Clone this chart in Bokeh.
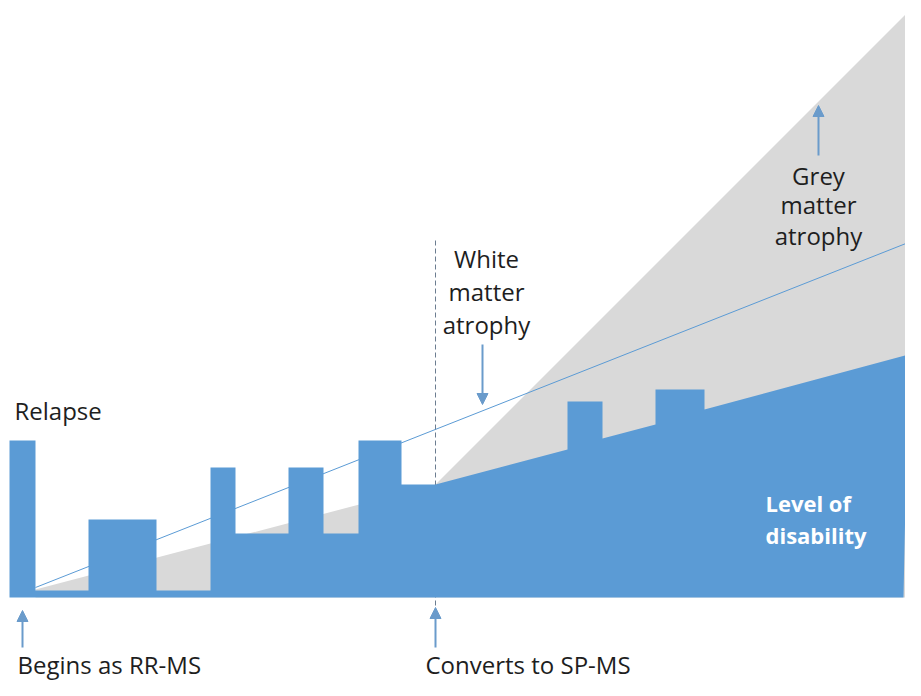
from bokeh.plotting import figure
from bokeh.models import Range1d, Arrow, NormalHead
from bokeh.core.properties import value
from bokeh.embed import file_html
from bokeh.resources import INLINE

# ---- data (time in arbitrary units, level above baseline) ----
# step profile of disability: relapses rise, partial recovery, then steady progression
disability_t = [0, 0, 26, 26, 79, 79, 147, 147, 201, 201, 226, 226, 279, 279,
                314, 314, 349, 349, 392, 392, 426, 558, 558, 593, 593, 646, 646,
                695, 695, 899, 894]
disability_level = [0, 157, 157, 7, 7, 78, 78, 7, 7, 130, 130, 64, 64, 130,
                    130, 64, 64, 157, 157, 113, 113, 148, 196, 196, 159, 173, 208,
                    208, 188, 243, 0]

# grey matter atrophy envelope
grey_t = [26, 426, 904, 898, 898, 26]
grey_level = [8, 113, 591, 243, 0, 0]

# white matter atrophy trend line
wm_t = [26, 904]
wm_level = [10, 357]

# conversion RR-MS -> SP-MS
conversion_t = 426
conversion_span = [-8, 360]

BLUE = "#5b9bd5"
GREY = "#d9d9d9"
ARROW = "#6a9bcb"
TEXT = "#1e1e1e"
FONT = value("Open Sans")

p = figure(width=905, height=680, output_backend="svg", toolbar_location=None,
           x_range=Range1d(-9, 896), y_range=Range1d(-83, 597),
           x_axis_location=None, y_axis_location=None, min_border=0)
p.grid.visible = False
p.outline_line_color = None
p.background_fill_color = "white"
p.border_fill_color = "white"

p.patch(grey_t, grey_level, fill_color=GREY, line_color=None)
p.line(wm_t, wm_level, line_color=BLUE, line_width=1)
p.line([conversion_t, conversion_t], conversion_span, line_color="#6c7d90",
       line_width=1, line_dash="5 3")
p.patch(disability_t, disability_level, fill_color=BLUE, line_color=None)

# arrows
def arrow(x0, y0, x1, y1):
    p.add_layout(Arrow(end=NormalHead(size=11, fill_color=ARROW, line_color=ARROW),
                       x_start=x0, y_start=y0, x_end=x1, y_end=y1,
                       line_color=ARROW, line_width=2))

arrow(13, -50, 13, -13)
arrow(conversion_t, -50, conversion_t, -10)
arrow(473, 253, 473, 193)
arrow(809, 442, 809, 492)

# labels
p.text(x=[5, 8, 416], y=[187, -67, -67],
       text=["Relapse", "Begins as RR-MS", "Converts to SP-MS"],
       text_font=FONT, text_font_size="24px", text_align="left",
       text_baseline="alphabetic", text_color=TEXT)
p.text(x=[477, 477, 477], y=[339, 306, 273],
       text=["White", "matter", "atrophy"],
       text_font=FONT, text_font_size="24px", text_align="center",
       text_baseline="alphabetic", text_color=TEXT)
p.text(x=[809, 809, 809], y=[422, 393, 362],
       text=["Grey", "matter", "atrophy"],
       text_font=FONT, text_font_size="24px", text_align="center",
       text_baseline="alphabetic", text_color=TEXT)
p.text(x=[756, 756], y=[95, 63], text=["Level of", "disability"],
       text_font=FONT, text_font_size="22px", text_font_style="bold",
       text_align="left", text_baseline="alphabetic", text_color="white")

open("out.html", "w").write(file_html(p, INLINE))
